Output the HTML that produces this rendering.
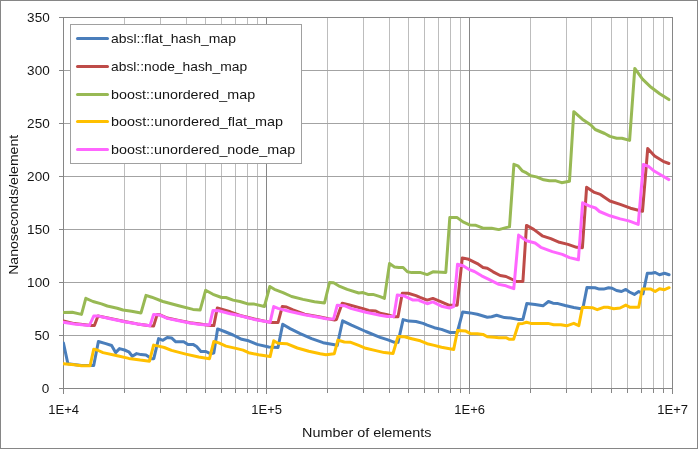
<!DOCTYPE html><html><head><meta charset="utf-8"><title>chart</title><style>
html,body{margin:0;padding:0;background:#fff}
#c{will-change:transform;position:relative;width:698px;height:449px;overflow:hidden;background:#fff;font-family:"Liberation Sans",sans-serif;color:#151515}
.t{position:absolute;white-space:nowrap;font-size:13px;line-height:14px;height:14px}
.t span{display:inline-block}
.b{font-size:13.5px}

</style></head><body><div id="c">
<svg width="698" height="449" viewBox="0 0 698 449" style="position:absolute;left:0;top:0">
<rect x="0" y="0" width="698" height="449" fill="#fff"/>
<rect x="124" y="17" width="1" height="371" fill="#BDBDBD"/>
<rect x="160" y="17" width="1" height="371" fill="#BDBDBD"/>
<rect x="186" y="17" width="1" height="371" fill="#BDBDBD"/>
<rect x="205" y="17" width="1" height="371" fill="#BDBDBD"/>
<rect x="221" y="17" width="1" height="371" fill="#BDBDBD"/>
<rect x="235" y="17" width="1" height="371" fill="#BDBDBD"/>
<rect x="247" y="17" width="1" height="371" fill="#BDBDBD"/>
<rect x="257" y="17" width="1" height="371" fill="#BDBDBD"/>
<rect x="327" y="17" width="1" height="371" fill="#BDBDBD"/>
<rect x="363" y="17" width="1" height="371" fill="#BDBDBD"/>
<rect x="389" y="17" width="1" height="371" fill="#BDBDBD"/>
<rect x="408" y="17" width="1" height="371" fill="#BDBDBD"/>
<rect x="424" y="17" width="1" height="371" fill="#BDBDBD"/>
<rect x="438" y="17" width="1" height="371" fill="#BDBDBD"/>
<rect x="450" y="17" width="1" height="371" fill="#BDBDBD"/>
<rect x="460" y="17" width="1" height="371" fill="#BDBDBD"/>
<rect x="530" y="17" width="1" height="371" fill="#BDBDBD"/>
<rect x="566" y="17" width="1" height="371" fill="#BDBDBD"/>
<rect x="591" y="17" width="1" height="371" fill="#BDBDBD"/>
<rect x="611" y="17" width="1" height="371" fill="#BDBDBD"/>
<rect x="627" y="17" width="1" height="371" fill="#BDBDBD"/>
<rect x="641" y="17" width="1" height="371" fill="#BDBDBD"/>
<rect x="653" y="17" width="1" height="371" fill="#BDBDBD"/>
<rect x="663" y="17" width="1" height="371" fill="#BDBDBD"/>
<rect x="59" y="17" width="614" height="1" fill="#A3A3A3"/>
<rect x="59" y="70" width="614" height="1" fill="#A3A3A3"/>
<rect x="59" y="123" width="614" height="1" fill="#A3A3A3"/>
<rect x="59" y="176" width="614" height="1" fill="#A3A3A3"/>
<rect x="59" y="229" width="614" height="1" fill="#A3A3A3"/>
<rect x="59" y="282" width="614" height="1" fill="#A3A3A3"/>
<rect x="59" y="335" width="614" height="1" fill="#A3A3A3"/>
<rect x="59" y="388" width="614" height="1" fill="#A3A3A3"/>
<rect x="63" y="17" width="1" height="377" fill="#868686"/>
<rect x="266" y="17" width="1" height="377" fill="#868686"/>
<rect x="469" y="17" width="1" height="377" fill="#868686"/>
<rect x="672" y="17" width="1" height="377" fill="#868686"/>
<rect x="63" y="17" width="610" height="1" fill="#868686"/>
<rect x="59" y="388" width="614" height="1" fill="#868686"/>
<rect x="124" y="388" width="1" height="5" fill="#868686"/>
<rect x="160" y="388" width="1" height="5" fill="#868686"/>
<rect x="186" y="388" width="1" height="5" fill="#868686"/>
<rect x="205" y="388" width="1" height="5" fill="#868686"/>
<rect x="221" y="388" width="1" height="5" fill="#868686"/>
<rect x="235" y="388" width="1" height="5" fill="#868686"/>
<rect x="247" y="388" width="1" height="5" fill="#868686"/>
<rect x="257" y="388" width="1" height="5" fill="#868686"/>
<rect x="327" y="388" width="1" height="5" fill="#868686"/>
<rect x="363" y="388" width="1" height="5" fill="#868686"/>
<rect x="389" y="388" width="1" height="5" fill="#868686"/>
<rect x="408" y="388" width="1" height="5" fill="#868686"/>
<rect x="424" y="388" width="1" height="5" fill="#868686"/>
<rect x="438" y="388" width="1" height="5" fill="#868686"/>
<rect x="450" y="388" width="1" height="5" fill="#868686"/>
<rect x="460" y="388" width="1" height="5" fill="#868686"/>
<rect x="530" y="388" width="1" height="5" fill="#868686"/>
<rect x="566" y="388" width="1" height="5" fill="#868686"/>
<rect x="591" y="388" width="1" height="5" fill="#868686"/>
<rect x="611" y="388" width="1" height="5" fill="#868686"/>
<rect x="627" y="388" width="1" height="5" fill="#868686"/>
<rect x="641" y="388" width="1" height="5" fill="#868686"/>
<rect x="653" y="388" width="1" height="5" fill="#868686"/>
<rect x="663" y="388" width="1" height="5" fill="#868686"/>
<rect x="59" y="17" width="4" height="1" fill="#868686"/>
<rect x="59" y="70" width="4" height="1" fill="#868686"/>
<rect x="59" y="123" width="4" height="1" fill="#868686"/>
<rect x="59" y="176" width="4" height="1" fill="#868686"/>
<rect x="59" y="229" width="4" height="1" fill="#868686"/>
<rect x="59" y="282" width="4" height="1" fill="#868686"/>
<rect x="59" y="335" width="4" height="1" fill="#868686"/>
<rect x="59" y="388" width="4" height="1" fill="#868686"/>
<defs><clipPath id="pc"><rect x="63" y="17" width="610" height="372"/></clipPath></defs><g clip-path="url(#pc)">
<path d="M63.4,342.9 L67.9,363.7 L81.5,365.5 L93.7,365.5 L98.4,341.5 L105.8,343.6 L111.6,345.5 L115.6,352.6 L119.5,348.6 L124.5,350.0 L128.8,351.8 L132.3,356.2 L136.6,353.6 L141.0,354.6 L146.0,355.0 L151.7,358.7 L153.8,358.7 L158.6,338.6 L162.9,340.3 L167.2,337.5 L171.5,337.9 L175.8,341.8 L183.7,341.8 L188.0,344.6 L193.0,344.4 L196.6,346.5 L200.9,351.5 L205.9,351.5 L210.2,353.7 L213.8,353.0 L217.6,328.9 L224.5,331.5 L233.1,335.0 L241.7,339.3 L248.6,340.8 L257.2,344.4 L268.7,347.0 L278.0,347.5 L282.7,324.3 L290.1,328.6 L300.2,333.6 L311.6,338.7 L323.1,342.7 L334.6,344.8 L337.2,345.4 L342.6,320.8 L351.5,325.1 L365.8,331.5 L380.1,337.3 L387.3,339.7 L394.5,342.3 L398.0,342.3 L403.1,319.6 L408.8,321.1 L416.0,321.5 L423.1,323.4 L427.2,325.1 L434.3,327.7 L441.5,329.4 L450.1,332.5 L457.2,332.5 L462.7,311.9 L470.1,312.9 L477.3,314.3 L487.3,317.2 L491.6,316.8 L496.6,315.3 L504.5,317.6 L510.7,318.0 L517.9,319.4 L522.9,319.4 L526.8,303.6 L535.1,304.4 L543.0,305.8 L548.4,301.5 L553.0,303.2 L558.0,303.6 L565.2,305.5 L573.8,307.5 L580.9,308.7 L583.1,307.2 L587.0,287.4 L595.0,287.7 L599.3,289.1 L603.6,289.1 L608.6,287.7 L612.2,288.2 L616.5,290.5 L621.5,291.5 L625.8,289.4 L629.4,292.0 L634.4,294.4 L638.7,291.5 L643.0,293.7 L647.3,273.3 L651.6,273.3 L655.2,272.5 L659.5,274.8 L664.5,273.3 L669.1,274.8" fill="none" stroke="#4A7EBB" stroke-width="3" stroke-linejoin="round" stroke-linecap="round"/>
<path d="M63.4,321.0 L74.3,323.6 L91.0,325.5 L94.4,325.5 L98.0,316.0 L110.1,318.4 L124.5,321.5 L137.4,323.9 L150.0,325.8 L153.6,326.1 L157.2,314.4 L160.0,314.8 L167.2,318.0 L178.7,320.4 L190.1,322.7 L200.1,324.1 L210.2,325.6 L213.8,325.6 L217.3,308.0 L221.6,309.1 L230.2,311.8 L240.0,315.5 L254.3,319.0 L271.5,322.6 L278.0,322.6 L282.3,306.5 L286.6,307.0 L293.0,309.8 L304.5,314.2 L318.8,316.8 L326.0,318.3 L334.6,320.1 L336.4,319.6 L342.2,303.3 L348.6,304.7 L363.0,308.6 L368.7,310.5 L375.8,311.0 L380.1,313.3 L387.3,314.8 L393.8,316.8 L398.0,316.8 L402.3,293.3 L408.1,293.3 L416.0,295.6 L420.0,297.3 L427.2,300.1 L432.9,298.4 L440.1,301.3 L448.7,305.2 L457.2,305.2 L462.3,257.9 L468.7,259.3 L477.3,263.6 L483.0,267.5 L487.3,268.3 L493.1,271.8 L500.2,275.5 L506.0,276.5 L516.5,281.5 L522.9,281.5 L526.5,225.4 L533.7,229.4 L542.2,235.8 L550.8,238.7 L559.4,242.3 L568.0,244.4 L576.6,247.3 L582.4,247.7 L586.6,187.3 L594.4,192.4 L600.4,194.4 L609.9,201.0 L620.2,204.4 L630.5,208.2 L637.4,210.0 L642.5,211.3 L647.7,148.6 L654.6,156.0 L663.1,161.3 L668.9,163.5" fill="none" stroke="#BE4B48" stroke-width="3" stroke-linejoin="round" stroke-linecap="round"/>
<path d="M63.4,312.6 L72.2,312.2 L81.5,314.4 L85.8,298.3 L93.0,301.5 L101.5,303.9 L107.3,306.0 L117.3,308.2 L123.0,310.0 L131.6,311.2 L141.0,312.9 L146.0,295.4 L151.7,297.2 L162.9,301.5 L178.7,305.8 L193.0,309.4 L200.1,310.1 L205.6,290.3 L213.0,294.3 L221.6,297.5 L225.9,297.5 L233.1,300.1 L240.0,301.5 L248.6,304.1 L254.3,304.1 L264.4,306.5 L269.8,286.5 L274.4,289.3 L283.0,292.6 L291.6,296.5 L303.0,299.4 L314.5,301.8 L324.5,303.0 L329.5,282.6 L333.6,282.7 L338.6,285.8 L347.2,289.4 L358.7,293.0 L363.0,292.6 L368.0,294.4 L373.0,294.4 L380.1,296.6 L384.4,298.4 L389.5,263.6 L394.5,266.9 L398.8,267.5 L403.1,267.5 L407.4,271.8 L411.7,272.6 L420.0,272.4 L427.2,274.6 L432.9,271.8 L445.8,272.5 L449.8,217.6 L457.2,217.6 L463.0,221.9 L470.1,225.1 L475.9,225.3 L483.0,228.2 L491.6,228.2 L498.8,229.6 L506.0,227.6 L509.5,226.9 L513.9,164.3 L517.9,165.8 L522.2,170.8 L526.5,172.9 L530.8,175.8 L536.5,176.9 L543.7,179.8 L549.4,180.8 L555.9,180.8 L561.6,182.7 L569.5,181.2 L573.8,111.7 L582.3,119.2 L590.9,125.0 L595.2,129.5 L604.7,133.5 L609.9,136.4 L616.7,138.2 L621.9,138.2 L629.6,140.4 L634.8,68.4 L642.5,79.1 L651.1,87.3 L659.7,93.7 L668.9,99.6" fill="none" stroke="#98B954" stroke-width="3" stroke-linejoin="round" stroke-linecap="round"/>
<path d="M63.4,363.7 L74.3,364.7 L81.5,365.8 L90.1,365.8 L93.7,349.3 L97.2,350.0 L103.0,352.6 L117.3,355.8 L128.8,358.4 L140.2,360.1 L149.5,361.2 L153.6,345.1 L158.6,346.1 L164.3,347.5 L171.5,350.4 L185.8,354.1 L198.7,357.0 L209.5,358.7 L213.8,341.5 L218.8,342.9 L225.9,346.1 L236.0,348.4 L243.1,350.1 L248.6,352.7 L258.6,354.7 L270.1,356.6 L273.7,340.8 L278.0,343.2 L286.6,343.7 L297.3,348.0 L308.8,351.3 L320.2,353.7 L326.0,354.7 L334.3,353.7 L337.9,340.1 L344.3,342.0 L350.8,342.3 L358.7,345.4 L365.8,348.3 L375.8,350.6 L384.4,352.6 L393.0,353.5 L398.0,336.5 L404.5,336.8 L411.7,338.7 L420.3,340.8 L427.2,343.7 L434.3,345.4 L441.5,347.3 L453.7,349.4 L457.5,330.5 L465.8,331.1 L470.1,333.4 L477.3,333.7 L483.0,334.4 L487.3,336.8 L494.5,337.3 L498.8,337.7 L506.0,337.7 L509.5,339.3 L513.6,339.3 L518.6,323.7 L522.9,323.4 L526.5,322.3 L530.8,323.4 L548.0,323.4 L553.7,324.7 L560.9,324.7 L566.6,325.8 L573.8,323.3 L578.8,325.6 L582.4,307.2 L592.2,307.7 L597.2,309.7 L603.6,307.3 L607.9,307.3 L613.7,308.7 L620.1,308.0 L625.8,305.1 L630.1,307.3 L638.7,307.3 L642.3,289.1 L650.9,289.1 L655.2,291.5 L659.5,288.7 L664.5,289.7 L669.1,287.7" fill="none" stroke="#FFC000" stroke-width="3" stroke-linejoin="round" stroke-linecap="round"/>
<path d="M63.4,322.2 L74.3,324.1 L89.4,325.5 L93.7,316.1 L98.7,316.1 L110.1,318.7 L124.5,321.8 L137.4,324.1 L150.0,325.8 L153.6,314.4 L160.0,315.1 L167.2,318.4 L178.7,320.8 L190.1,323.0 L200.1,324.4 L209.5,325.1 L213.0,310.4 L218.8,310.8 L230.2,313.7 L240.0,315.8 L254.3,319.4 L270.1,322.3 L273.7,306.5 L278.0,308.4 L290.1,311.5 L304.5,314.7 L318.8,317.3 L326.0,318.7 L333.6,318.9 L337.2,305.3 L344.3,305.7 L351.5,308.6 L365.8,312.2 L380.1,315.3 L387.3,316.5 L393.8,316.5 L397.3,295.0 L404.5,296.1 L413.1,300.1 L418.8,300.1 L420.0,300.9 L427.2,303.7 L432.9,301.9 L441.5,306.2 L449.4,308.0 L453.7,306.6 L457.5,264.3 L463.0,265.8 L468.7,269.3 L474.4,271.5 L481.6,275.8 L488.8,279.4 L498.8,284.4 L506.0,285.8 L513.8,288.7 L518.6,235.1 L526.5,240.8 L535.1,243.0 L540.8,247.3 L552.3,251.6 L562.3,254.4 L569.5,257.6 L578.4,259.8 L582.6,202.8 L589.2,205.8 L595.5,208.0 L599.5,211.5 L609.9,215.8 L620.2,218.9 L628.8,220.9 L638.2,224.4 L643.4,164.5 L648.5,166.4 L653.7,170.7 L661.4,175.2 L668.9,179.6" fill="none" stroke="#FF66FF" stroke-width="3" stroke-linejoin="round" stroke-linecap="round"/>
</g>
<rect x="70.5" y="24.5" width="231" height="139" fill="#fff" stroke="#A0A0A0" stroke-width="1"/>
<line x1="77.5" y1="38.5" x2="107.5" y2="38.5" stroke="#4A7EBB" stroke-width="3" stroke-linecap="round"/>
<line x1="77.5" y1="66.5" x2="107.5" y2="66.5" stroke="#BE4B48" stroke-width="3" stroke-linecap="round"/>
<line x1="77.5" y1="94.5" x2="107.5" y2="94.5" stroke="#98B954" stroke-width="3" stroke-linecap="round"/>
<line x1="77.5" y1="121.5" x2="107.5" y2="121.5" stroke="#FFC000" stroke-width="3" stroke-linecap="round"/>
<line x1="77.5" y1="149.5" x2="107.5" y2="149.5" stroke="#FF66FF" stroke-width="3" stroke-linecap="round"/>
<rect x="0.5" y="0.5" width="697" height="448" fill="none" stroke="#868686" stroke-width="1"/>
</svg>
<div class="t" style="right:648.8px;top:11px;text-align:right"><span class="sx" style="transform-origin:right center;transform:scaleX(1.041)">350</span></div>
<div class="t" style="right:648.8px;top:64px;text-align:right"><span class="sx" style="transform-origin:right center;transform:scaleX(1.041)">300</span></div>
<div class="t" style="right:648.8px;top:117px;text-align:right"><span class="sx" style="transform-origin:right center;transform:scaleX(1.041)">250</span></div>
<div class="t" style="right:648.8px;top:170px;text-align:right"><span class="sx" style="transform-origin:right center;transform:scaleX(1.041)">200</span></div>
<div class="t" style="right:648.8px;top:223px;text-align:right"><span class="sx" style="transform-origin:right center;transform:scaleX(1.041)">150</span></div>
<div class="t" style="right:648.8px;top:276px;text-align:right"><span class="sx" style="transform-origin:right center;transform:scaleX(1.041)">100</span></div>
<div class="t" style="right:648.8px;top:329px;text-align:right"><span class="sx" style="transform-origin:right center;transform:scaleX(1.041)">50</span></div>
<div class="t" style="right:648.8px;top:382px;text-align:right"><span class="sx" style="transform-origin:right center;transform:scaleX(1.041)">0</span></div>
<div class="t" style="left:33.7px;width:60px;top:403px;text-align:center"><span class="sx" style="transform-origin:center center;transform:scaleX(1.0)">1E+4</span></div>
<div class="t" style="left:236.7px;width:60px;top:403px;text-align:center"><span class="sx" style="transform-origin:center center;transform:scaleX(1.0)">1E+5</span></div>
<div class="t" style="left:439.7px;width:60px;top:403px;text-align:center"><span class="sx" style="transform-origin:center center;transform:scaleX(1.0)">1E+6</span></div>
<div class="t" style="left:642.7px;width:60px;top:403px;text-align:center"><span class="sx" style="transform-origin:center center;transform:scaleX(1.0)">1E+7</span></div>
<div class="t b" style="left:111px;top:31.9px"><span class="sx" style="transform-origin:left center;transform:scaleX(1.0336)">absl::flat_hash_map</span></div>
<div class="t b" style="left:111px;top:59.9px"><span class="sx" style="transform-origin:left center;transform:scaleX(1.0244)">absl::node_hash_map</span></div>
<div class="t b" style="left:111px;top:87.9px"><span class="sx" style="transform-origin:left center;transform:scaleX(1.0608)">boost::unordered_map</span></div>
<div class="t b" style="left:111px;top:114.9px"><span class="sx" style="transform-origin:left center;transform:scaleX(1.0665)">boost::unordered_flat_map</span></div>
<div class="t b" style="left:111px;top:142.9px"><span class="sx" style="transform-origin:left center;transform:scaleX(1.0618)">boost::unordered_node_map</span></div>
<div class="t b" style="left:266.4px;width:200px;top:426px;text-align:center"><span class="sx" style="transform-origin:center center;transform:scaleX(1.0653)">Number of elements</span></div>
<div class="t b" style="left:-86.1px;top:197.8px;width:200px;text-align:center;transform:rotate(-90deg);transform-origin:center center"><span class="sx" style="transform-origin:center center;transform:scaleX(1.0422)">Nanoseconds/element</span></div>
</div></body></html>
